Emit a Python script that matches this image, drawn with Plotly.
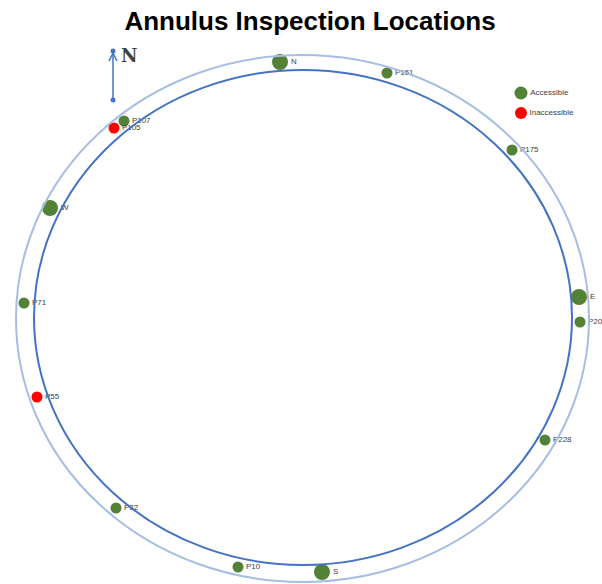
import plotly.graph_objects as go

# ---- data (pixel-like coordinates of the drawing frame) ----
acc_names = ["P151", "P107", "P175", "P20", "P71", "P228", "P32", "P10"]
acc_x = [387, 124, 512, 580, 24, 545, 116, 238]
acc_y = [73, 121, 150, 322, 303, 440, 508, 567]

cardinal_names = ["N", "W", "E", "S"]
cardinal_x = [280, 50, 579, 322]
cardinal_y = [62, 208, 297, 572]

inacc_names = ["P105", "P55"]
inacc_x = [114, 37]
inacc_y = [128, 397]

legend_labels = ["Accessible", "Inaccessible"]

outer_ring = dict(x0=16, x1=589, y0=55, y1=582)
inner_ring = dict(x0=34, x1=572, y0=70, y1=565)

GREEN = "#538135"
RED = "#FF0000"
LABEL = dict(family="Liberation Sans", size=8, color="#404040")

fig = go.Figure()

# rings
fig.add_shape(type="circle", xref="x", yref="y", line=dict(color="#A7BEE2", width=2), **outer_ring)
fig.add_shape(type="circle", xref="x", yref="y", line=dict(color="#4472C4", width=2), **inner_ring)

# accessible points
fig.add_trace(go.Scatter(x=acc_x, y=acc_y, text=acc_names, mode="markers+text",
                         textposition="middle right", textfont=LABEL,
                         marker=dict(size=11, color=GREEN), showlegend=False))
fig.add_trace(go.Scatter(x=cardinal_x, y=cardinal_y, text=cardinal_names, mode="markers+text",
                         textposition="middle right", textfont=LABEL,
                         marker=dict(size=16, color=GREEN), showlegend=False))
fig.add_trace(go.Scatter(x=inacc_x, y=inacc_y, text=inacc_names, mode="markers+text",
                         textposition="middle right", textfont=LABEL,
                         marker=dict(size=11, color=RED), showlegend=False))

# manual legend
fig.add_trace(go.Scatter(x=[521], y=[93], text=[legend_labels[0]], mode="markers+text",
                         textposition="middle right", textfont=LABEL,
                         marker=dict(size=13, color=GREEN), showlegend=False))
fig.add_trace(go.Scatter(x=[521], y=[113], text=[legend_labels[1]], mode="markers+text",
                         textposition="middle right", textfont=LABEL,
                         marker=dict(size=12, color=RED), showlegend=False))

# north arrow
ax, ay_top, ay_bot = 113, 51, 100
fig.add_trace(go.Scatter(x=[ax, ax], y=[ay_top, ay_bot], mode="lines+markers",
                         line=dict(color="#4472C4", width=1.5),
                         marker=dict(size=5, color="#4472C4"), showlegend=False))
fig.add_trace(go.Scatter(x=[ax - 4, ax, ax + 4], y=[ay_top + 10, ay_top + 2, ay_top + 10], mode="lines",
                         line=dict(color="#4472C4", width=1.5), showlegend=False))
fig.add_annotation(x=ax + 16, y=ay_top + 4, text="<b>N</b>", showarrow=False,
                   font=dict(family="DejaVu Serif", size=18, color="#404040"))

fig.update_layout(
    width=602, height=584, autosize=False,
    margin=dict(l=0, r=0, t=0, b=0),
    paper_bgcolor="white", plot_bgcolor="white",
    title=dict(text="<b>Annulus Inspection Locations</b>", x=0.515, xanchor="center",
               y=0.965, yanchor="middle",
               font=dict(family="Liberation Sans", size=26, color="black")),
    xaxis=dict(range=[0, 602], visible=False, fixedrange=True),
    yaxis=dict(range=[584, 0], visible=False, fixedrange=True),
)

fig.write_html("out.html", config={"displayModeBar": False, "staticPlot": True})

# remove the default page margin so the figure sits at the window's top-left corner
with open("out.html", "r", encoding="utf-8") as f:
    html = f.read()
html = html.replace("<body>", '<body style="margin:0;padding:0;overflow:hidden">', 1)
with open("out.html", "w", encoding="utf-8") as f:
    f.write(html)
